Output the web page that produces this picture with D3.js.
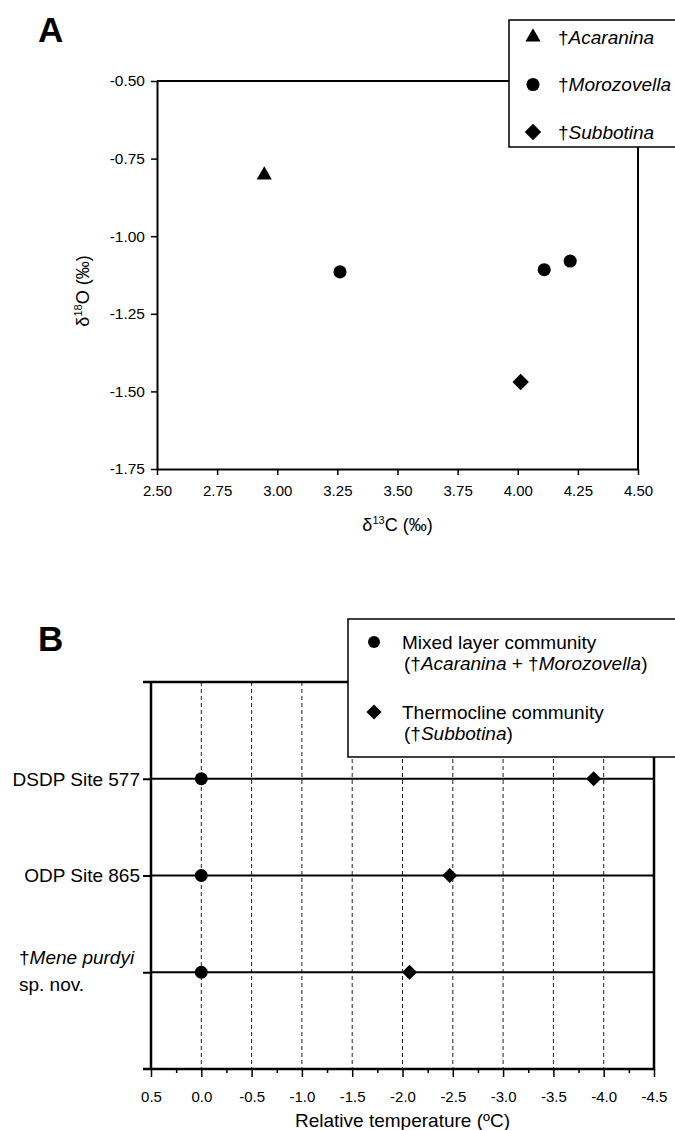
<!DOCTYPE html>
<html>
<head>
<meta charset="utf-8">
<script src="https://cdn.jsdelivr.net/npm/d3@7"></script>
<style>
body { margin: 0; background: #fff; }
svg { display: block; font-family: "Liberation Sans", Arial, sans-serif; }
.axis path, .axis line { stroke: #000; }
.axis text { fill: #000; }
</style>
</head>
<body>
<div id="chart"></div>
<script>
// Panel A: stable isotope values per sample
const taxa = ["Acaranina", "Morozovella", "Subbotina"];
const sampleTaxon = ["Acaranina", "Morozovella", "Morozovella", "Morozovella", "Subbotina"];
const d13C = [2.946, 3.261, 4.110, 4.218, 4.012];
const d18O = [-0.803, -1.115, -1.108, -1.080, -1.470];
const xTicksA = [2.5, 2.75, 3.0, 3.25, 3.5, 3.75, 4.0, 4.25, 4.5];
const yTicksA = [-0.5, -0.75, -1.0, -1.25, -1.5, -1.75];

// Panel B: relative temperature of each community per site
const sites = ["DSDP Site 577", "ODP Site 865", "Mene purdyi"];
const siteLabels = [["DSDP Site 577"], ["ODP Site 865"], ["†_Mene purdyi_", "sp. nov."]];
const mixedLayer = [0, 0, 0];
const thermocline = [-3.9, -2.47, -2.07];
const xTicksB = [0.5, 0, -0.5, -1, -1.5, -2, -2.5, -3, -3.5, -4, -4.5];
const minorTicksB = [0.25, -0.25, -0.75, -1.25, -1.75, -2.25, -2.75, -3.25, -3.75, -4.25];
const communities = [
    ["Mixed layer community", "(†_Acaranina_ + †_Morozovella_)"],
    ["Thermocline community", "(†_Subbotina_)"]
];

const width = 675, height = 1130;

const svg = d3.select("#chart")
    .append("svg")
    .attr("width", width)
    .attr("height", height);

// text with _italic_ parts
function richText(sel, str) {
    str.split("_").forEach((part, i) => {
        if (part === "") return;
        sel.append("tspan")
            .attr("font-style", i % 2 ? "italic" : "normal")
            .text(part);
    });
}

const diamond = size => d3.symbol(d3.symbolSquare, size)();
const shapeA = {
    Acaranina: { path: d3.symbol(d3.symbolTriangle, 100)(), rot: 0 },
    Morozovella: { path: d3.symbol(d3.symbolCircle, 135)(), rot: 0 },
    Subbotina: { path: diamond(135), rot: 45 }
};

// ---------- Panel A ----------
const xA = d3.scaleLinear().domain([2.5, 4.5]).range([157, 638]);
const yA = d3.scaleLinear().domain([-1.75, -0.5]).range([469, 81]);

svg.append("text")
    .attr("x", 38).attr("y", 42)
    .attr("font-size", 35).attr("font-weight", "bold")
    .text("A");

const gA = svg.append("g");

gA.append("g")
    .attr("class", "axis")
    .attr("transform", `translate(0,${yA.range()[0]})`)
    .call(d3.axisBottom(xA).tickValues(xTicksA).tickFormat(d => d.toFixed(2))
        .tickSize(6).tickSizeOuter(0).tickPadding(10))
    .call(g => g.selectAll("text").attr("font-size", 15).attr("font-family", null))
    .call(g => g.select(".domain").attr("stroke-width", 2))
    .call(g => g.selectAll(".tick line").attr("stroke-width", 1.5));

gA.append("g")
    .attr("class", "axis")
    .attr("transform", `translate(${xA.range()[0]},0)`)
    .call(d3.axisLeft(yA).tickValues(yTicksA).tickFormat(d => d.toFixed(2))
        .tickSize(6).tickSizeOuter(0).tickPadding(6))
    .call(g => g.selectAll("text").attr("font-size", 15.5).attr("font-family", null))
    .call(g => g.select(".domain").attr("stroke-width", 2))
    .call(g => g.selectAll(".tick line").attr("stroke-width", 1.5));

// top and right frame
gA.append("path")
    .attr("fill", "none").attr("stroke", "#000").attr("stroke-width", 2)
    .attr("d", `M${xA.range()[0]},${yA.range()[1]}H${xA.range()[1]}V${yA.range()[0]}`);

gA.selectAll(".pt")
    .data(d13C.map((c, i) => ({ c: c, o: d18O[i], t: sampleTaxon[i] })))
    .enter().append("path")
    .attr("class", "pt")
    .attr("d", d => shapeA[d.t].path)
    .attr("transform", d => `translate(${xA(d.c)},${yA(d.o)}) rotate(${shapeA[d.t].rot})`)
    .attr("fill", "#000");

// axis titles
const xtA = svg.append("text")
    .attr("x", (xA.range()[0] + xA.range()[1]) / 2).attr("y", 531)
    .attr("text-anchor", "middle").attr("font-size", 18);
xtA.append("tspan").text("δ");
xtA.append("tspan").attr("font-size", 11).attr("dy", -7).text("13");
xtA.append("tspan").attr("dy", 7).text("C (‰)");

const ytA = svg.append("text")
    .attr("transform", "translate(89,291) rotate(-90)")
    .attr("text-anchor", "middle").attr("font-size", 18);
ytA.append("tspan").text("δ");
ytA.append("tspan").attr("font-size", 11).attr("dy", -7).text("18");
ytA.append("tspan").attr("dy", 7).text("O (‰)");

// legend A
const legA = svg.append("g");
legA.append("rect")
    .attr("x", 509).attr("y", 20).attr("width", 200).attr("height", 127)
    .attr("fill", "#fff").attr("stroke", "#000").attr("stroke-width", 1.5);
const legAy = d3.scalePoint().domain(taxa).range([37, 132]);
legA.selectAll(".sym")
    .data(taxa).enter().append("path")
    .attr("d", t => shapeA[t].path)
    .attr("transform", t => `translate(533,${legAy(t)}) rotate(${shapeA[t].rot})`)
    .attr("fill", "#000");
legA.selectAll(".lab")
    .data(taxa).enter().append("text")
    .attr("x", 558).attr("y", t => legAy(t)).attr("dy", "0.36em")
    .attr("font-size", 19)
    .each(function (t) { richText(d3.select(this), "†_" + t + "_"); });

// ---------- Panel B ----------
const xB = d3.scaleLinear().domain([0.5, -4.5]).range([151, 654]);
const yB = d3.scalePoint().domain(sites).range([682, 1069]).padding(1);
const [yTop, yBottom] = yB.range();
const [xLeft, xRight] = xB.range();

svg.append("text")
    .attr("x", 38).attr("y", 651)
    .attr("font-size", 35).attr("font-weight", "bold")
    .text("B");

const gB = svg.append("g");

// dashed grid
gB.selectAll(".grid")
    .data(xTicksB.slice(1, -1))
    .enter().append("line")
    .attr("x1", d => xB(d)).attr("x2", d => xB(d))
    .attr("y1", yTop).attr("y2", yBottom)
    .attr("stroke", "#222").attr("stroke-width", 1)
    .attr("stroke-dasharray", "4,3");

// minor ticks
gB.append("g")
    .attr("class", "axis")
    .attr("transform", `translate(0,${yBottom})`)
    .call(d3.axisBottom(xB).tickValues(minorTicksB).tickFormat("").tickSize(4).tickSizeOuter(0))
    .call(g => g.select(".domain").remove())
    .call(g => g.selectAll(".tick line").attr("stroke-width", 1.5));

gB.append("g")
    .attr("class", "axis")
    .attr("transform", `translate(0,${yBottom})`)
    .call(d3.axisBottom(xB).tickValues(xTicksB).tickFormat(d => d.toFixed(1))
        .tickSize(8).tickSizeOuter(0).tickPadding(14))
    .call(g => g.selectAll("text").attr("font-size", 15).attr("font-family", null))
    .call(g => g.select(".domain").remove())
    .call(g => g.selectAll(".tick line").attr("stroke-width", 1.5));

gB.append("g")
    .attr("class", "axis")
    .attr("transform", `translate(${xLeft},0)`)
    .call(d3.axisLeft(yB).tickFormat("").tickSize(8).tickSizeOuter(0))
    .call(g => g.select(".domain").remove())
    .call(g => g.selectAll(".tick line").attr("stroke-width", 2));

// row lines
gB.selectAll(".row")
    .data(sites).enter().append("line")
    .attr("x1", xLeft).attr("x2", xRight)
    .attr("y1", d => yB(d)).attr("y2", d => yB(d))
    .attr("stroke", "#000").attr("stroke-width", 2);

// frame
gB.append("path")
    .attr("fill", "none").attr("stroke", "#000").attr("stroke-width", 2.5)
    .attr("d", `M${xLeft - 8},${yTop}H${xRight}V${yBottom}H${xLeft - 8}M${xLeft},${yTop}V${yBottom}`);

// row labels
gB.selectAll(".site")
    .data(sites).enter().append("text")
    .attr("font-size", 19)
    .each(function (s, i) {
        const lines = siteLabels[i];
        const t = d3.select(this);
        if (lines.length === 1) {
            t.attr("x", xLeft - 11).attr("y", yB(s)).attr("dy", "0.36em")
                .attr("text-anchor", "end");
            richText(t, lines[0]);
        } else {
            lines.forEach((ln, j) => {
                const tl = t.append("tspan")
                    .attr("x", 19).attr("y", yB(s) + (j === 0 ? -15 : 12)).attr("dy", "0.36em");
                richText(tl, ln);
            });
        }
    });

// points
gB.selectAll(".mix")
    .data(sites).enter().append("circle")
    .attr("cx", (s, i) => xB(mixedLayer[i])).attr("cy", s => yB(s))
    .attr("r", 6.5).attr("fill", "#000");

gB.selectAll(".thermo")
    .data(sites).enter().append("path")
    .attr("d", diamond(115))
    .attr("transform", (s, i) => `translate(${xB(thermocline[i])},${yB(s)}) rotate(45)`)
    .attr("fill", "#000");

svg.append("text")
    .attr("x", (xLeft + xRight) / 2).attr("y", 1127)
    .attr("text-anchor", "middle").attr("font-size", 19)
    .text("Relative temperature (ºC)");

// legend B
const legB = svg.append("g");
legB.append("rect")
    .attr("x", 348).attr("y", 619).attr("width", 400).attr("height", 138)
    .attr("fill", "#fff").attr("stroke", "#000").attr("stroke-width", 1.5);
const legBy = [642, 712];
legB.append("circle").attr("cx", 374).attr("cy", legBy[0]).attr("r", 6).attr("fill", "#000");
legB.append("path").attr("d", diamond(115))
    .attr("transform", `translate(374,${legBy[1]}) rotate(45)`).attr("fill", "#000");
communities.forEach((lines, i) => {
    lines.forEach((ln, j) => {
        const t = legB.append("text")
            .attr("x", j === 0 ? 402 : 404)
            .attr("y", legBy[i] + j * 21).attr("dy", "0.36em")
            .attr("font-size", 19);
        richText(t, ln);
    });
});
</script>
</body>
</html>
